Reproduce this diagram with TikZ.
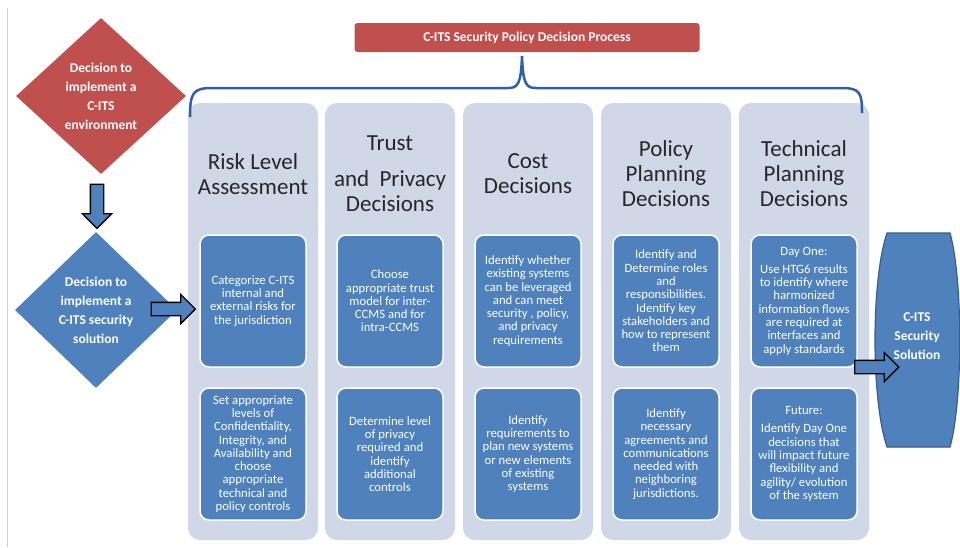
\documentclass[tikz,border=0pt]{standalone}
\usepackage{fontspec}
\setmainfont{Carlito}
\usepackage{tikz}
\usetikzlibrary{positioning,shapes.geometric,shapes.arrows}
\usepackage{xcolor}

\definecolor{colgray}{HTML}{D0D8E8}
\definecolor{boxblue}{HTML}{4F81BD}
\definecolor{boxred}{HTML}{C0504D}
\definecolor{bracecol}{HTML}{2F5FA8}
\definecolor{edgeblue}{HTML}{385D8A}
\definecolor{headtext}{HTML}{262626}

\tikzset{
  column/.style={fill=colgray, rounded corners=12pt, minimum width=130pt, minimum height=437pt, inner sep=0pt},
  header/.style={text=headtext, align=center, font=\fontsize{23}{25}\selectfont},
  task/.style={fill=boxblue, draw=white, line width=1.5pt, rounded corners=9pt, minimum width=106pt, minimum height=132pt, inner sep=3pt, text=white, align=center, font=\fontsize{12.7}{13.3}\selectfont},
  decision/.style={diamond, inner sep=0pt, text=white, align=center, font=\bfseries\fontsize{13.5}{19}\selectfont},
  banner/.style={fill=boxred, rounded corners=3pt, minimum width=345pt, minimum height=29pt, text=white, font=\bfseries\fontsize{13.5}{15}\selectfont},
  blockarrow/.style={single arrow, draw=black, line width=1.3pt, fill=boxblue, minimum height=44pt, single arrow head extend=8pt, inner sep=6pt},
  soltext/.style={text=white, align=center, font=\bfseries\fontsize{13.5}{19}\selectfont}
}

\begin{document}
\begin{tikzpicture}[x=1pt,y=-1pt]
\useasboundingbox (0,0) rectangle (960,547);
\draw[gray!40, line width=0.8pt] (7,8) -- (7,547);

% columns
\node[column] (col1) at (253,321.5) {};
\node[column] (col2) at (390,321.5) {};
\node[column] (col3) at (528,321.5) {};
\node[column] (col4) at (666,321.5) {};
\node[column] (col5) at (804,321.5) {};

\node[header] (head1) at (253,174) {Risk Level\\Assessment};
\node[header] (head2) at (390,174) {Trust\\[11pt]and~ Privacy\\Decisions};
\node[header] (head3) at (528,174) {Cost\\Decisions};
\node[header] (head4) at (666,174) {Policy\\Planning\\Decisions};
\node[header] (head5) at (804,174) {Technical\\Planning\\Decisions};

\node[task] (top1) at (253,301) {Categorize C-ITS\\internal and\\external risks for\\the jurisdiction};
\node[task] (low1) at (253,454) {Set appropriate\\levels of\\Confidentiality,\\Integrity, and\\Availability and\\choose\\appropriate\\technical and\\policy controls};
\node[task] (top2) at (390,301) {Choose\\appropriate trust\\model for inter-\\CCMS and for\\intra-CCMS};
\node[task] (low2) at (390,454) {Determine level\\of privacy\\required and\\identify\\additional\\controls};
\node[task] (top3) at (528,301) {Identify whether\\existing systems\\can be leveraged\\and can meet\\security , policy,\\and privacy\\requirements};
\node[task] (low3) at (528,454) {Identify\\requirements to\\plan new systems\\or new elements\\of existing\\systems};
\node[task] (top4) at (666,301) {Identify and\\Determine roles\\and\\responsibilities.\\Identify key\\stakeholders and\\how to represent\\them};
\node[task] (low4) at (666,454) {Identify\\necessary\\agreements and\\communications\\needed with\\neighboring\\jurisdictions.};
\node[task] (top5) at (804,301) {Day One:\\[5pt]Use HTG6 results\\to identify where\\harmonized\\information flows\\are required at\\interfaces and\\apply standards};
\node[task] (low5) at (804,454) {Future:\\[5pt]Identify Day One\\decisions that\\will impact future\\flexibility and\\agility/ evolution\\of the system};

% process title and brace
\node[banner] (banner) at (527,37.5) {C-ITS Security Policy Decision Process};
\coordinate (tip) at (522,56);
\coordinate (bl) at (190,117);
\coordinate (br) at (862,113);
\draw[bracecol, line width=2.5pt] (bl) .. controls (190,93) and (193,88) .. (212,88) -- (508,88)
  .. controls (518,88) and (521,84) .. (tip) .. controls (523,84) and (526,88) .. (536,88) -- (842,88)
  .. controls (860,88) and (862,93) .. (br);

% decisions on the left
\node[decision, fill=boxred, minimum width=170pt, minimum height=156pt] (envdec) at (101,96) {Decision to\\implement a\\C-ITS\\environment};
\node[decision, fill=boxblue, minimum width=162pt, minimum height=156pt] (secdec) at (96,310) {Decision to\\implement a\\C-ITS security\\solution};

% solution
\filldraw[fill=boxblue, draw=edgeblue, line width=1.2pt] (887,233) -- (950,233) .. controls (963,280) and (963,400) .. (950,447)
  -- (887,447) .. controls (871,400) and (871,280) .. (887,233) -- cycle;
\node[soltext] (sol) at (917,336) {C-ITS\\Security\\Solution};

% block arrows
\node[blockarrow, rotate=-90] (arrdown) at (97,203) {};
\node[blockarrow] (arrin) at (170,309) {};
\node[blockarrow] (arrout) at (873.5,367) {};
\end{tikzpicture}
\end{document}
